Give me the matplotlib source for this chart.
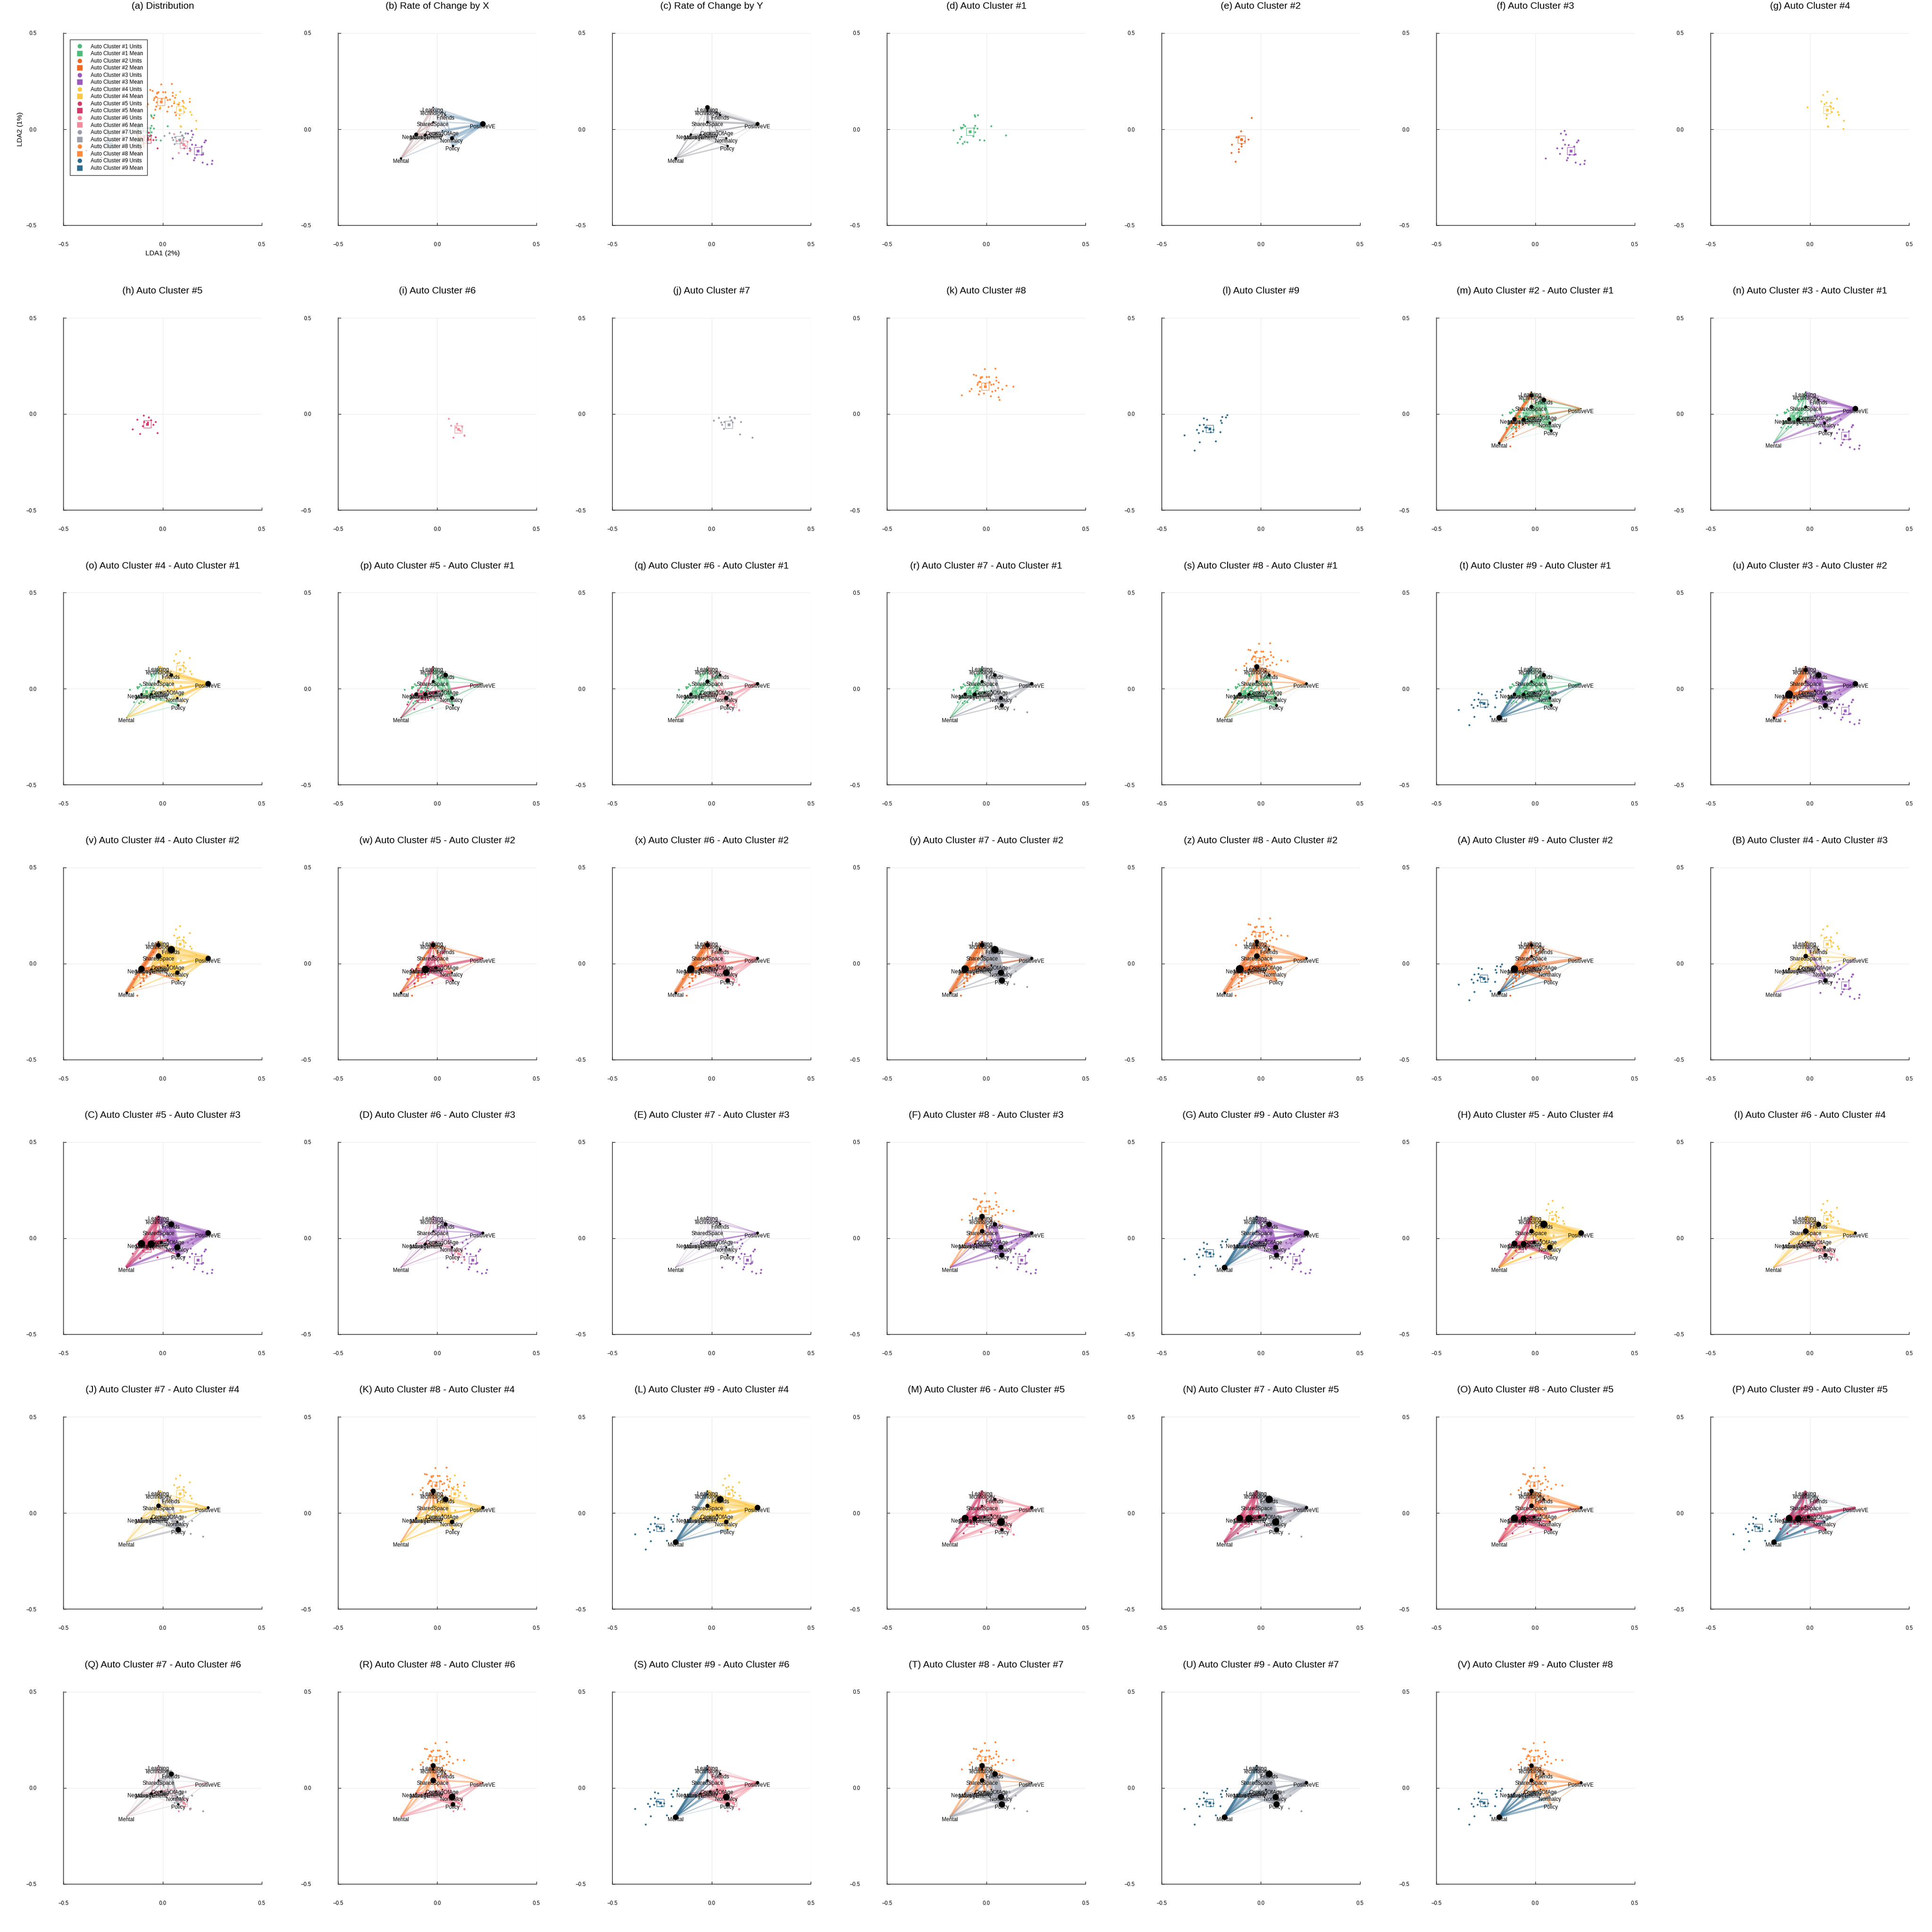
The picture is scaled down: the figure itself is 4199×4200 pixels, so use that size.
import matplotlib.pyplot as plt
from matplotlib.colors import LinearSegmentedColormap
from matplotlib.lines import Line2D

plt.rcParams["font.family"] = ["Liberation Sans", "DejaVu Sans"]

FIG_W: int = 4199
FIG_H: int = 4200
FONTSIZE: float = 8.3

# feature nodes in LDA space
NODES = ["Learning", "Technology", "Friends", "SharedSpace", "PositiveVE", "ComingOfAge",
         "Safety", "NegativeVE", "Management", "Normalcy", "Policy", "Mental"]
NODE_X = [-0.022, -0.022, 0.042, -0.022, 0.229, 0.025, -0.008, -0.107, -0.060, 0.073, 0.078, -0.183]
NODE_Y = [0.115, 0.098, 0.073, 0.039, 0.028, -0.008, -0.019, -0.027, -0.029, -0.046, -0.086, -0.151]

CLUSTERS = [f"Auto Cluster #{i}" for i in range(1, 10)]
COLORS = ["#4fbb7b", "#ee6a22", "#9b59bb", "#fdc744", "#d23a6a",
          "#f28b9b", "#9a9ea9", "#fe8a3b", "#2e6b8e"]

MEAN_X = [-0.082, -0.099, 0.178, 0.087, -0.078, 0.106, 0.085, -0.007, -0.259]
MEAN_Y = [-0.013, -0.053, -0.113, 0.101, -0.053, -0.078, -0.055, 0.144, -0.077]

C1_X = [-0.060, -0.058, -0.044, -0.166, -0.129, -0.127, -0.120, -0.115, -0.108, -0.056, -0.046, -0.061,
        0.024, -0.056, -0.067, -0.127, -0.134, -0.146, -0.120, -0.111, -0.097, -0.034, -0.011, 0.098]
C1_Y = [0.074, 0.068, 0.074, -0.004, 0.010, 0.004, 0.010, 0.024, 0.017, 0.020, 0.004, 0.007,
        0.017, -0.014, -0.037, -0.039, -0.050, -0.069, -0.073, -0.064, -0.068, -0.056, -0.057, -0.030]
C2_X = [-0.048, -0.101, -0.113, -0.146, -0.099, -0.097, -0.113, -0.113, -0.149, -0.128, -0.063, -0.123, -0.083]
C2_Y = [0.060, -0.010, -0.040, -0.080, -0.077, -0.089, -0.102, -0.117, -0.123, -0.167, -0.053, -0.040, -0.062]
C3_X = [0.215, 0.148, 0.166, 0.195, 0.135, 0.108, 0.123, 0.171, 0.195, 0.202, 0.051, 0.162, 0.157,
        0.201, 0.224, 0.246, 0.249, 0.209, 0.146, 0.153, 0.127, 0.140, 0.216]
C3_Y = [-0.057, -0.080, -0.081, -0.088, -0.097, -0.097, -0.126, -0.132, -0.132, -0.128, -0.151, -0.148, -0.160,
        -0.172, -0.183, -0.179, -0.162, -0.068, -0.006, -0.027, -0.021, -0.054, -0.057]
C4_X = [0.087, 0.065, 0.136, 0.072, 0.083, 0.105, 0.100, 0.105, 0.116, 0.109, 0.139, 0.145, 0.084,
        0.083, 0.091, -0.013, 0.056, 0.169, 0.168, 0.090]
C4_Y = [0.196, 0.179, 0.160, 0.132, 0.138, 0.138, 0.123, 0.117, 0.109, 0.091, 0.091, 0.077, 0.074,
        0.057, 0.015, 0.115, 0.147, 0.046, 0.002, 0.016]
C5_X = [-0.129, -0.097, -0.070, -0.095, -0.075, -0.048, -0.102, -0.151, -0.116, -0.026, -0.035, -0.060]
C5_Y = [-0.028, -0.006, -0.016, -0.040, -0.044, -0.056, -0.062, -0.080, -0.104, -0.098, -0.040, -0.030]
C6_X = [0.124, 0.137, 0.080, 0.070, 0.057, 0.095, 0.115, 0.100, 0.136]
C6_Y = [-0.064, -0.112, -0.122, -0.060, -0.023, -0.070, -0.085, -0.050, -0.109]
C7_X = [0.116, 0.147, 0.141, 0.062, 0.009, 0.034, 0.047, 0.052, 0.060, 0.090, 0.114, 0.105, 0.204, 0.097]
C7_Y = [-0.022, -0.040, -0.106, -0.040, -0.033, -0.020, -0.043, -0.056, -0.077, -0.015, -0.019, -0.043, -0.121, -0.030]
C8_X = [-0.009, 0.045, -0.063, -0.053, -0.030, -0.029, -0.022, 0.001, 0.012, 0.049, 0.050, 0.062, -0.037,
        -0.042, -0.032, -0.006, 0.014, 0.018, -0.046, 0.035, 0.025, 0.101, 0.135, -0.031, 0.058, 0.079,
        0.046, 0.029, -0.075, -0.085, -0.125, -0.034, 0.022, 0.062, 0.067, -0.014, -0.039]
C8_Y = [0.234, 0.237, 0.205, 0.202, 0.191, 0.187, 0.194, 0.194, 0.194, 0.191, 0.175, 0.165, 0.170,
        0.163, 0.167, 0.159, 0.167, 0.165, 0.153, 0.156, 0.152, 0.148, 0.144, 0.142, 0.136, 0.128,
        0.122, 0.117, 0.132, 0.120, 0.098, 0.120, 0.094, 0.088, 0.073, 0.108, 0.102]
C9_X = [-0.288, -0.272, -0.309, -0.288, -0.281, -0.323, -0.313, -0.292, -0.271, -0.240, -0.253, -0.387,
        -0.205, -0.309, -0.227, -0.334, -0.195, -0.176, -0.170, -0.203, -0.197]
C9_Y = [-0.022, -0.028, -0.057, -0.054, -0.070, -0.082, -0.098, -0.088, -0.070, -0.081, -0.094, -0.109,
        -0.094, -0.146, -0.142, -0.189, -0.014, -0.016, -0.004, -0.033, -0.046]
UNITS_X = [C1_X, C2_X, C3_X, C4_X, C5_X, C6_X, C7_X, C8_X, C9_X]
UNITS_Y = [C1_Y, C2_Y, C3_Y, C4_Y, C5_Y, C6_Y, C7_Y, C8_Y, C9_Y]

# node rates for panels (b) and (c)
RATE_X = [-0.10, -0.02, 0.10, -0.20, 0.90, 0.10, -0.10, -0.60, -0.40, 0.60, 0.30, -0.30]
RATE_Y = [0.70, 0.30, 0.25, 0.30, 0.60, 0.05, -0.05, -0.30, -0.20, -0.25, -0.30, -0.40]

# node weights of each cluster relative to Auto Cluster #1
W1 = [0.0] * 12
W2 = [0.10, 0.60, -0.70, -0.60, 0.05, -0.10, -0.10, 0.70, -0.60, -0.40, -0.40, 0.35]
W3 = [-0.05, -0.05, 0.25, -0.40, 0.90, 0.10, -0.10, -0.60, -0.60, 0.40, 0.40, 0.00]
W4 = [0.00, -0.05, 0.50, 0.30, 0.90, 0.10, -0.15, -0.35, -0.35, 0.30, -0.30, 0.00]
W5 = [0.10, -0.10, -0.70, -0.40, 0.00, -0.10, 0.30, 0.60, 0.60, -0.60, -0.20, 0.05]
W6 = [0.00, -0.10, -0.30, -0.60, 0.50, 0.10, 0.10, -0.50, -0.20, 0.70, 0.30, 0.00]
W7 = [-0.05, -0.10, 0.50, -0.40, 0.50, 0.10, -0.20, -0.50, -0.60, 0.60, 0.60, 0.00]
W8 = [0.80, 0.20, -0.40, 0.30, 0.40, 0.00, -0.10, -0.60, -0.40, -0.40, -0.40, 0.00]
W9 = [0.10, 0.10, -0.60, -0.30, 0.00, -0.10, -0.20, -0.50, -0.50, -0.40, -0.40, 0.90]
WEIGHTS = [W1, W2, W3, W4, W5, W6, W7, W8, W9]

TICKS = [-0.5, 0.0, 0.5]
TICK_LABELS = ["\u22120.5", "0.0", "0.5"]
LETTERS = list("abcdefghijklmnopqrstuvwxyz") + list("ABCDEFGHIJKLMNOPQRSTUVWXYZ")

RATE_CMAP = LinearSegmentedColormap.from_list("rate", ["#b98585", "#e2dde0", "#6f9bbb"])
GRAY_CMAP = LinearSegmentedColormap.from_list("gray", ["#d4d4d8", "#6e717a"])


def axes_rect(row: int, col: int) -> list:
    left = 138 + col * 596.7
    cy = 281 if row == 0 else 900 + (row - 1) * 597.3
    return [left / FIG_W, 1 - (cy + 209) / FIG_H, 431 / FIG_W, 418 / FIG_H]


def style_axes(ax, title: str) -> None:
    ax.set_xlim(-0.5, 0.5)
    ax.set_ylim(-0.5, 0.5)
    ax.set_xticks(TICKS)
    ax.set_yticks(TICKS)
    ax.set_xticklabels(TICK_LABELS)
    ax.set_yticklabels(TICK_LABELS)
    ax.grid(True, color="#ececec", linewidth=0.8)
    ax.set_axisbelow(True)
    for side in ("top", "right"):
        ax.spines[side].set_visible(False)
    for side in ("left", "bottom"):
        ax.spines[side].set_linewidth(1.1)
        ax.spines[side].set_color("#333333")
    ax.tick_params(axis="x", direction="in", length=4, labelsize=FONTSIZE, pad=26)
    ax.tick_params(axis="y", direction="in", length=4, labelsize=FONTSIZE, pad=42)
    ax.set_title(title, fontsize=15, pad=38)


def draw_units(ax, k: int) -> None:
    ax.scatter(UNITS_X[k], UNITS_Y[k], s=9, color=COLORS[k], linewidths=0, zorder=3)
    ax.plot(MEAN_X[k], MEAN_Y[k], "s", ms=5, color=COLORS[k], mec="none", zorder=4)
    ax.plot(MEAN_X[k], MEAN_Y[k], "s", ms=11, mfc="none", mec=COLORS[k], mew=1.0,
            alpha=0.8, zorder=4)


def draw_network(ax, values, edge_color) -> None:
    edges = []
    for i in range(len(NODES)):
        for j in range(i + 1, len(NODES)):
            edges.append((abs(values[i] + values[j]), values[i] + values[j], i, j))
    edges.sort()
    for mag, s, i, j in edges:
        ax.plot([NODE_X[i], NODE_X[j]], [NODE_Y[i], NODE_Y[j]], color=edge_color(s),
                lw=0.2 + 3.4 * mag ** 1.6, alpha=0.5, solid_capstyle="butt", zorder=2)
    for i, name in enumerate(NODES):
        ax.plot(NODE_X[i], NODE_Y[i], "o", ms=1.2 + 8.5 * abs(values[i]), color="black",
                mec="none", zorder=5)
        ax.annotate(name, (NODE_X[i], NODE_Y[i]), xytext=(0, -4.8), textcoords="offset points",
                    ha="center", va="center", fontsize=FONTSIZE, zorder=6)


def main() -> None:
    fig = plt.figure(figsize=(FIG_W / 100, FIG_H / 100), dpi=100)
    panels = ["Distribution", "Rate of Change by X", "Rate of Change by Y"]
    panels += CLUSTERS
    pairs = []
    for b in range(9):
        for a in range(b + 1, 9):
            pairs.append((a, b))
            panels.append(f"{CLUSTERS[a]} - {CLUSTERS[b]}")

    for idx, name in enumerate(panels):
        ax = fig.add_axes(axes_rect(idx // 7, idx % 7))
        style_axes(ax, f"({LETTERS[idx]}) {name}")
        if idx == 0:
            for k in range(9):
                draw_units(ax, k)
            handles = []
            for k in range(9):
                handles.append(Line2D([], [], marker="o", ls="", ms=7, color=COLORS[k], mec="none",
                                      label=f"{CLUSTERS[k]} Units"))
                handles.append(Line2D([], [], marker="s", ls="", ms=8.5, color=COLORS[k], mec="none",
                                      label=f"{CLUSTERS[k]} Mean"))
            leg = ax.legend(handles=handles, loc="upper left", fontsize=8.5, frameon=True,
                            fancybox=False, edgecolor="black", labelspacing=0.3,
                            borderaxespad=1.2, handletextpad=1.0, borderpad=0.8)
            leg.get_frame().set_linewidth(1.0)
            ax.set_xlabel("LDA1 (2%)", fontsize=11)
            ax.set_ylabel("LDA2 (1%)", fontsize=11)
        elif idx == 1:
            draw_network(ax, RATE_X, lambda s: RATE_CMAP(0.5 + 0.5 * max(-1, min(1, s / 1.2))))
        elif idx == 2:
            draw_network(ax, RATE_Y, lambda s: GRAY_CMAP(min(1, abs(s) / 1.2)))
        elif idx < 12:
            draw_units(ax, idx - 3)
        else:
            a, b = pairs[idx - 12]
            diff = [wa - wb for wa, wb in zip(WEIGHTS[a], WEIGHTS[b])]
            draw_network(ax, diff, lambda s, a=a, b=b: COLORS[a] if s > 0 else COLORS[b])
            draw_units(ax, b)
            draw_units(ax, a)

    fig.savefig("out.png", dpi=100)


if __name__ == "__main__":
    main()
